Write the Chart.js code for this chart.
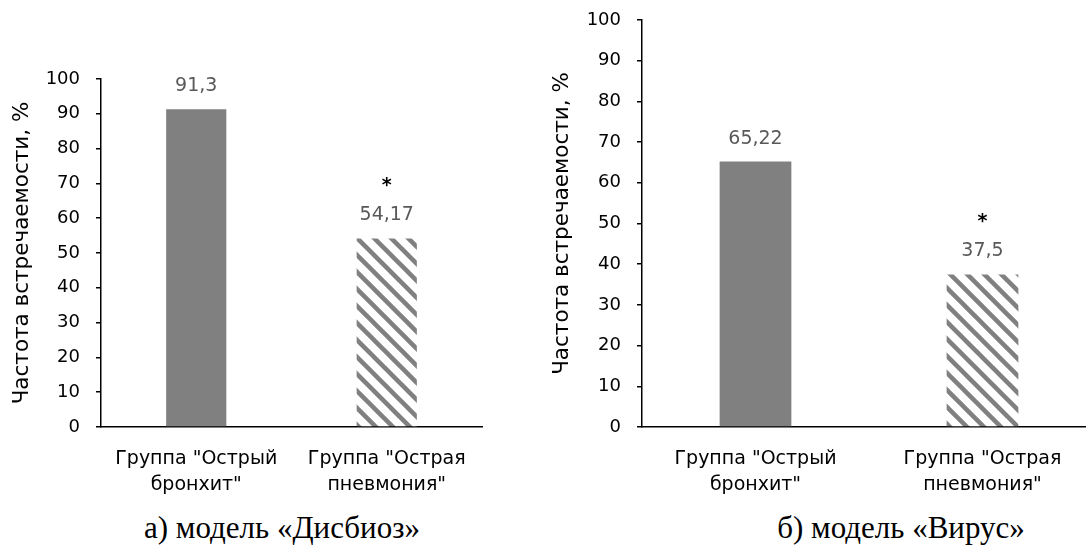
<!DOCTYPE html>
<html lang="ru">
<head>
<meta charset="UTF-8">
<title>Частота встречаемости</title>
<script src="https://cdn.jsdelivr.net/npm/chart.js"></script>
<style>
  html, body { margin: 0; padding: 0; background: #fff; overflow: hidden; }
  body { width: 1086px; height: 554px; position: relative; }
  canvas { position: absolute; top: 0; }
  #chartA { left: 0; }
  #chartB { left: 540px; }
  .caption {
    position: absolute; top: 510px; width: 400px; text-align: center;
    font-family: "Liberation Serif", serif; font-size: 31px; line-height: 36px; color: #000;
  }
</style>
<script>
// data
var categories = [['Группа "Острый', 'бронхит"'], ['Группа "Острая', 'пневмония"']];
var dysbiosisValues = [91.3, 54.17];
var virusValues = [65.22, 37.5];
var significance = ['', '*'];
var yMin = 0, yMax = 100, yStep = 10;
var yTitle = 'Частота встречаемости, %';

function stripePattern() {
    var size = 17;
    var tile = document.createElement('canvas');
    tile.width = size; tile.height = size;
    var c = tile.getContext('2d');
    c.fillStyle = '#fff';
    c.fillRect(0, 0, size, size);
    c.strokeStyle = '#808080';
    c.lineWidth = 4.5;
    for (var k = -1; k <= 1; k++) {
        c.beginPath();
        c.moveTo(k * size - 2, -2);
        c.lineTo(k * size + size + 2, size + 2);
        c.stroke();
    }
    return c.createPattern(tile, 'repeat');
}

// value labels and significance marks above bars
var barLabels = {
    id: 'barLabels',
    afterDatasetsDraw: function(chart) {
        var ctx = chart.ctx;
        var meta = chart.getDatasetMeta(0);
        var values = chart.data.datasets[0].data;
        ctx.save();
        ctx.textAlign = 'center';
        ctx.textBaseline = 'alphabetic';
        meta.data.forEach(function(bar, i) {
            var baseY = bar.y - 18;
            ctx.font = '19px "DejaVu Sans"';
            ctx.fillStyle = '#595959';
            ctx.fillText(String(values[i]).replace('.', ','), bar.x, baseY);
            if (significance[i]) {
                ctx.font = 'bold 19px "DejaVu Sans"';
                ctx.fillStyle = '#000';
                ctx.fillText(significance[i], bar.x, baseY - 29);
            }
        });
        ctx.restore();
    }
};

function makeChart(id, values, plotTop, rightPad, yWidth) {
    var ctx = document.getElementById(id).getContext('2d');
    return new Chart(ctx, {
        type: 'bar',
        data: {
            labels: categories,
            datasets: [{
                data: values,
                backgroundColor: ['#808080', stripePattern()],
                borderWidth: 0,
                categoryPercentage: 1,
                barPercentage: 0.316
            }]
        },
        options: {
            responsive: false,
            animation: false,
            layout: { padding: { left: 0, top: plotTop, right: rightPad, bottom: 0 } },
            plugins: { legend: { display: false }, tooltip: { enabled: false } },
            scales: {
                x: {
                    grid: { display: false, drawTicks: false },
                    border: { display: true, color: '#000', width: 1.5 },
                    ticks: {
                        color: '#000', padding: 19, maxRotation: 0, autoSkip: false,
                        font: { family: 'DejaVu Sans', size: 19, lineHeight: 1.36 }
                    },
                    afterFit: function(scale) {
                        scale.height = 500 - 427;
                        scale.paddingLeft = 0; scale.paddingRight = 0;
                    }
                },
                y: {
                    min: yMin, max: yMax,
                    grid: { drawOnChartArea: false, drawTicks: true, tickLength: 5, color: '#000', lineWidth: 1.5 },
                    border: { display: true, color: '#000', width: 1.5 },
                    ticks: {
                        stepSize: yStep, color: '#000', padding: 16,
                        font: { family: 'DejaVu Sans', size: 18 }
                    },
                    title: {
                        display: true, text: yTitle, color: '#000',
                        font: { family: 'DejaVu Sans', size: 21.5 },
                        padding: { top: 10, bottom: 0 }
                    },
                    afterFit: function(scale) {
                        scale.width = yWidth;
                        scale.paddingTop = 0; scale.paddingBottom = 0;
                    }
                }
            }
        },
        plugins: [barLabels]
    });
}

window.onload = function() {
    makeChart('chartA', dysbiosisValues, 79, 18, 101);
    makeChart('chartB', virusValues, 20, 4, 102);
};
</script>
</head>
<body>
  <canvas id="chartA" width="500" height="500"></canvas>
  <canvas id="chartB" width="560" height="500"></canvas>
  <div class="caption" style="left: 82px;">а) модель «Дисбиоз»</div>
  <div class="caption" style="left: 701px;">б) модель «Вирус»</div>
</body>
</html>
